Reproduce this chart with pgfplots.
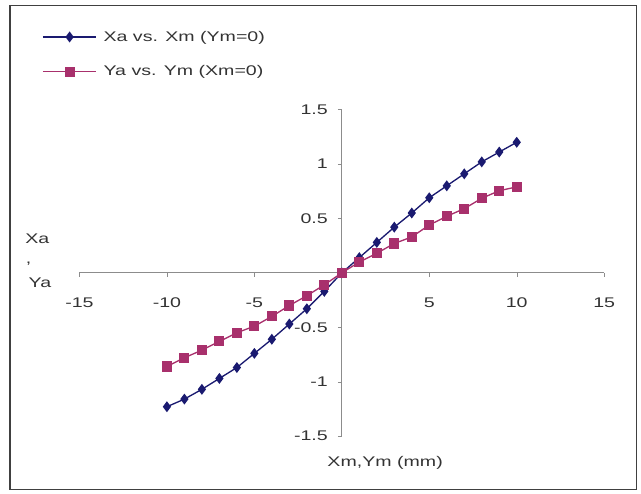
\documentclass[border=0pt]{standalone}
\usepackage{pgfplots}
\pgfplotsset{compat=1.18}
\usepackage{fontspec}
\setmainfont{Liberation Sans}[FakeStretch=1.4]
\definecolor{navyc}{HTML}{1A1A70}
\definecolor{pinkc}{HTML}{A8306C}
\definecolor{axisg}{HTML}{8C8C8C}
\begin{document}
\begin{tikzpicture}[x=1pt,y=1pt]
\path (0,0) rectangle (481,370.5);
\draw[black!75,line width=0.8pt] (7.5,3) rectangle (477.5,366.5);
\begin{axis}[
  at={(256.5pt,165.75pt)}, anchor=origin,
  scale only axis, width=393.75pt, height=245pt,
  xmin=-15, xmax=15, ymin=-1.5, ymax=1.5,
  axis lines=middle,
  axis line style={axisg, line width=0.6pt, -},
  xtick={-15,-10,...,15}, ytick={-1.5,-1,...,1.5},
  tick style={axisg}, major tick length=3pt, tick align=outside,
  xticklabel style={yshift=-12pt},
  yticklabel style={xshift=-4pt},
  yticklabels={-1.5,-1,-0.5,0,0.5,1,1.5},
  xticklabels={-15,-10,-5,0,5,10,15},
  ticklabel style={font=\fontsize{10.5}{12}\selectfont, text=black!80},
  clip=false,
  legend style={at={(axis cs:-17.14,2.25)}, anchor=north west, draw=none, fill=none,
     font=\fontsize{10.5}{12}\selectfont, text=black!80, row sep=13pt, column sep=3pt, inner sep=0pt},
  legend cell align=left,
  legend image code/.code={\draw[mark repeat=2,mark phase=2] plot coordinates {(0pt,0pt) (20pt,0pt) (40pt,0pt)};},
]
\addplot[navyc, line width=1pt, mark=diamond*, mark size=3.3pt, mark options={solid,fill=navyc,draw=navyc}] coordinates {
(-10,-1.23) (-9,-1.16) (-8,-1.07) (-7,-0.97) (-6,-0.87) (-5,-0.74) (-4,-0.61) (-3,-0.47) (-2,-0.33) (-1,-0.17) (0,0)
(1,0.14) (2,0.28) (3,0.42) (4,0.55) (5,0.69) (6,0.80) (7,0.91) (8,1.02) (9,1.11) (10,1.20)};
\addlegendentry{Xa vs. Xm (Ym=0)}
\addplot[pinkc, line width=1pt, mark=square*, mark size=3.3pt, mark options={solid,fill=pinkc,draw=pinkc}] coordinates {
(-10,-0.86) (-9,-0.78) (-8,-0.71) (-7,-0.63) (-6,-0.55) (-5,-0.49) (-4,-0.40) (-3,-0.30) (-2,-0.21) (-1,-0.11) (0,0)
(1,0.10) (2,0.18) (3,0.27) (4,0.33) (5,0.44) (6,0.52) (7,0.59) (8,0.685) (9,0.755) (10,0.79)};
\addlegendentry{Ya vs. Ym (Xm=0)}
\end{axis}
\node[font=\fontsize{10.5}{12}\selectfont, text=black!80] at (28,191) {Xa};
\node[font=\fontsize{10.5}{12}\selectfont, text=black!80] at (21.5,173) {,};
\node[font=\fontsize{10.5}{12}\selectfont, text=black!80] at (30,158) {Ya};
\node[font=\fontsize{10.5}{12}\selectfont, text=black!80] at (289,23) {Xm,Ym (mm)};
\end{tikzpicture}
\end{document}
